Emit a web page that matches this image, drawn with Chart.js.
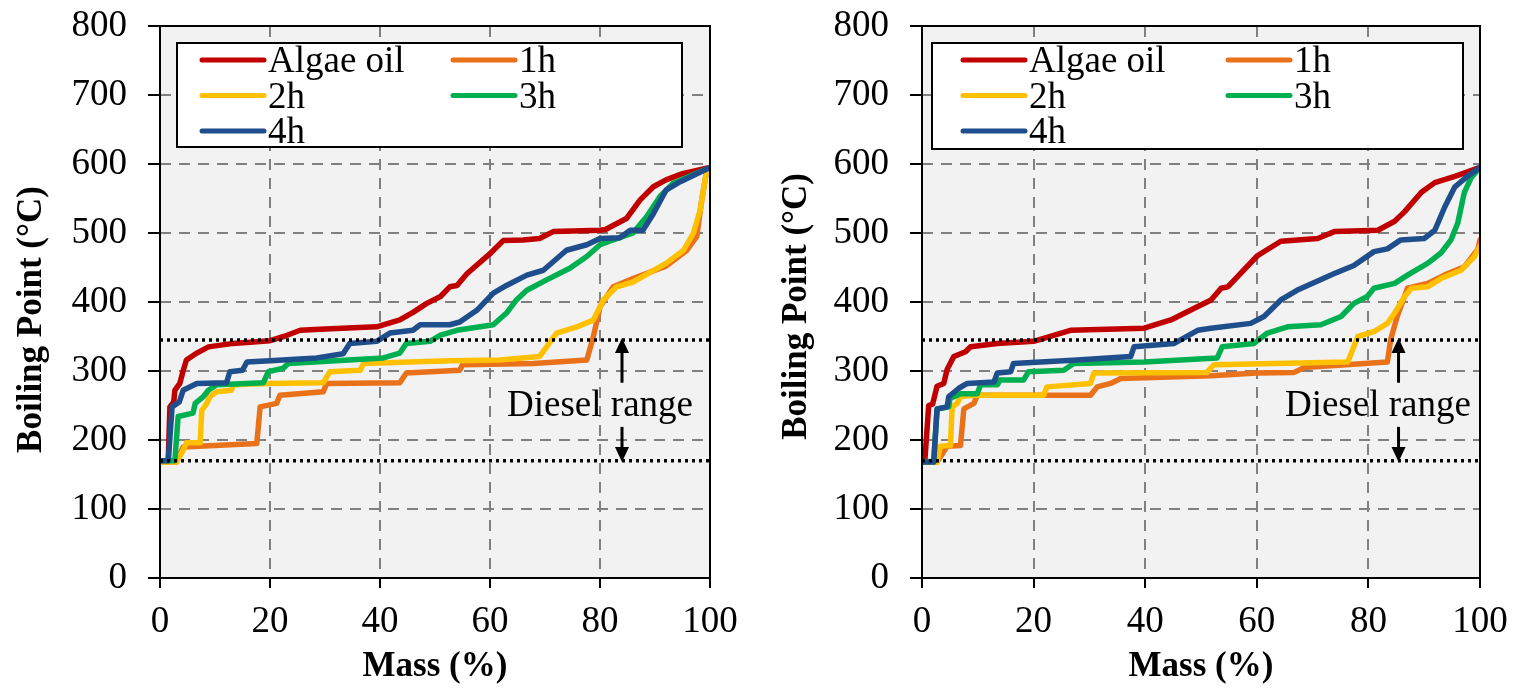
<!DOCTYPE html>
<html lang="en">
<head>
<meta charset="UTF-8" />
<title>Boiling point distribution</title>
<style>
  body { margin: 0; background: #fff; }
  .wrap { position: relative; width: 1513px; height: 688px; }
  canvas { position: absolute; top: 0; }
  #leftChart { left: 0; }
  #rightChart { left: 756px; }
</style>
<script src="https://cdn.jsdelivr.net/npm/chart.js"></script>
</head>
<body>
<div class="wrap">
  <canvas id="leftChart" width="756" height="688"></canvas>
  <canvas id="rightChart" width="757" height="688"></canvas>
</div>
<script>
  const seriesNames = ["Algae oil", "1h", "2h", "3h", "4h"];
  const seriesColors = ["#C00000", "#E8711A", "#FFC000", "#00B050", "#1F4E8C"];

  const massTicks = [0, 20, 40, 60, 80, 100];
  const bpTicks = [0, 100, 200, 300, 400, 500, 600, 700, 800];
  const dieselRange = [170, 345];   // dotted lines, °C

  // left panel, [mass %, boiling point °C]
  const leftAlgae = [[0,170],[1.5,170],[1.8,248],[2.5,255],[2.7,272],[3.6,282],[4.2,300],[4.8,316],[6.7,326],[8.8,335],[13.3,340],[20,344],[22.5,350],[25.5,359],[30,361],[39.4,364],[43.6,374],[46,385],[48.5,398],[51,408],[52.7,422],[54,424],[55.8,441],[60,470],[62.4,489],[66,490],[69,492],[71.5,502],[80,504],[81,505],[84.8,521],[87.3,548],[89.7,567],[92,577],[95,586],[100,595]];
  const left1h = [[0,168],[3,168],[4.2,190],[17.6,195],[18.2,248],[21.2,253],[21.8,265],[29.7,270],[30.3,282],[43.6,283],[44.8,297],[54.5,301],[55,309],[67.9,311],[77.6,316],[78.8,350],[80,393],[82.4,422],[86,434],[92,452],[95.8,475],[97.6,495],[98.5,548],[99.4,591],[100,595]];
  const left2h = [[0,168],[3,168],[4.2,185],[4.8,196],[7.3,196],[7.6,243],[8.5,253],[9.1,263],[10.3,270],[13,272],[13.3,280],[19.4,282],[29.7,283],[30.9,299],[36.4,301],[37,311],[52.7,315],[61.8,316],[69,321],[70.3,335],[72.1,355],[75.8,364],[78.8,374],[80.6,403],[83,422],[86,429],[92,456],[95.2,475],[97,500],[98.2,533],[99.4,591],[100,595]];
  const left3h = [[0,170],[2.7,170],[3.3,234],[6,239],[6.4,253],[7.9,263],[8.8,272],[10.3,280],[18.8,283],[19.7,299],[22.4,304],[23.3,311],[32,315],[40.6,319],[43.6,326],[44.8,340],[49.1,343],[51,352],[54,359],[60.6,367],[63,384],[64.8,403],[66.7,417],[70.3,432],[74.5,449],[77.6,466],[80,483],[82.4,490],[86,500],[88.5,524],[90.9,553],[93.3,572],[100,595]];
  const left4h = [[0,170],[1.5,170],[2.2,248],[3.5,255],[4.2,272],[6.7,282],[12.1,283],[12.7,299],[15,301],[15.8,313],[20,315],[28.5,319],[33.3,325],[34.5,340],[39.4,343],[41.8,355],[46,359],[47.3,367],[52.7,367],[54.5,371],[57.6,388],[60.6,413],[63,424],[66.7,439],[69.7,446],[73.9,475],[77.6,483],[80,492],[83.6,493],[85.5,504],[87.8,504],[89.7,528],[92,562],[94.5,574],[100,595]];

  // right panel
  const rightAlgae = [[0,169],[0.5,169],[1.2,250],[1.9,252],[2.7,278],[3.9,282],[4.5,302],[5.7,321],[7.8,328],[8.7,335],[13.5,340],[20,343],[26.6,359],[39.8,362],[44.6,374],[48.8,391],[51.8,403],[53.6,420],[54.8,422],[60.1,467],[64.3,488],[70.9,492],[73.9,502],[81.7,504],[84.7,517],[86.5,531],[89.5,559],[91.9,573],[95.5,582],[100,595]];
  const right1h = [[0,168],[2.7,168],[4.5,191],[6.9,192],[7.5,245],[9.3,253],[9.9,265],[30.2,265],[31.4,277],[33.8,282],[35.6,289],[51.8,293],[60,297],[66.7,298],[68.5,305],[83.4,313],[84,346],[85.2,380],[87,420],[90.6,427],[93.6,439],[97.2,451],[99.6,476],[100,490]];
  const right2h = [[0,168],[2.7,168],[3.3,191],[5.1,192],[5.4,248],[6.3,253],[6.9,263],[9.6,265],[21.8,265],[22.4,277],[30.2,282],[30.8,297],[51.1,298],[52.3,309],[76.3,313],[78.1,350],[81,357],[83.4,369],[84.7,384],[86.5,408],[87.7,420],[90.6,422],[93,434],[96.6,446],[99,466],[100,481]];
  const right3h = [[0,169],[2.1,169],[2.7,245],[4.8,248],[5,260],[6.9,267],[9.9,267],[10.5,280],[13.5,280],[14,287],[18.2,287],[19.1,299],[25.4,301],[27.2,311],[39.8,313],[52.9,319],[53.8,335],[59.5,340],[61.9,355],[65.5,364],[71.5,367],[75.1,379],[77.4,398],[79.8,408],[81,420],[84.7,427],[87,439],[90.6,456],[93,471],[94.8,490],[96,514],[97.2,559],[98.4,580],[100,595]];
  const right4h = [[0,168],[2.1,168],[2.7,245],[4.5,248],[4.8,263],[6.6,275],[8.1,282],[12.9,284],[13.5,297],[15.9,299],[16.4,311],[27.8,316],[37.4,321],[38,335],[45.2,340],[49.4,359],[51.8,362],[58.9,369],[61.3,379],[64.3,403],[67.2,417],[73.8,441],[77.4,453],[81,473],[83.4,477],[85.8,490],[90,492],[91.9,504],[93.7,538],[95.5,567],[97.9,583],[100,595]];

  const SERIF = '"Liberation Serif", "Times New Roman", serif';
  Chart.defaults.font.family = SERIF;
  Chart.defaults.color = "#000";

  // grey plot background + black frame
  const plotFrame = {
    id: "plotFrame",
    beforeDraw(chart) {
      const { ctx, chartArea: a } = chart;
      ctx.save();
      ctx.fillStyle = "#f2f2f2";
      ctx.fillRect(a.left, a.top, a.width, a.height);
      ctx.restore();
    },
    afterDatasetsDraw(chart) {
      const { ctx, chartArea: a } = chart;
      ctx.save();
      ctx.strokeStyle = "#000";
      ctx.lineWidth = 2;
      ctx.strokeRect(a.left, a.top, a.width, a.height);
      ctx.restore();
    }
  };

  // legend in a white box inside the plot, two columns
  const boxLegend = {
    id: "boxLegend",
    afterDraw(chart, args, o) {
      const { ctx, chartArea: a } = chart;
      const x0 = a.left + o.left, y0 = a.top + o.top;
      ctx.save();
      ctx.fillStyle = "#fff";
      ctx.fillRect(x0, y0, o.width, o.height);
      ctx.strokeStyle = "#000";
      ctx.lineWidth = 2;
      ctx.strokeRect(x0, y0, o.width, o.height);
      ctx.font = "37px " + SERIF;
      ctx.textBaseline = "alphabetic";
      seriesNames.forEach((name, i) => {
        const col = i % 2, row = Math.floor(i / 2);
        const lx = x0 + (col ? o.col2 : o.col1);
        const ly = y0 + o.row0 + row * o.rowGap;
        ctx.strokeStyle = seriesColors[i];
        ctx.lineWidth = 5;
        ctx.lineCap = "round";
        ctx.beginPath();
        ctx.moveTo(lx, ly);
        ctx.lineTo(lx + 62, ly);
        ctx.stroke();
        ctx.fillStyle = "#000";
        ctx.fillText(name, lx + 66, ly + 12);
      });
      ctx.restore();
    }
  };

  // "Diesel range" label with arrows
  const dieselNote = {
    id: "dieselNote",
    afterDatasetsDraw(chart, args, o) {
      const { ctx, scales: { x, y } } = chart;
      const ax = x.getPixelForValue(o.arrowAt);
      ctx.save();
      ctx.strokeStyle = "#000";
      ctx.fillStyle = "#000";
      ctx.lineWidth = 3;
      const arrow = (from, to) => {
        const y1 = y.getPixelForValue(from), y2 = y.getPixelForValue(to);
        const dir = y2 < y1 ? 1 : -1;
        ctx.beginPath();
        ctx.moveTo(ax, y1);
        ctx.lineTo(ax, y2 + dir * 12);
        ctx.stroke();
        ctx.beginPath();
        ctx.moveTo(ax, y2);
        ctx.lineTo(ax - 7, y2 + dir * 15);
        ctx.lineTo(ax + 7, y2 + dir * 15);
        ctx.closePath();
        ctx.fill();
      };
      arrow(283, 348);
      arrow(219, 168);
      ctx.font = "37px " + SERIF;
      ctx.textAlign = "center";
      ctx.textBaseline = "middle";
      ctx.fillText("Diesel range", x.getPixelForValue(o.textAt), y.getPixelForValue(249));
      ctx.restore();
    }
  };

  function makeChart(id, series, p) {
    const datasets = series.map((pts, i) => ({
      label: seriesNames[i],
      data: pts.map(([m, t]) => ({ x: m, y: t })),
      borderColor: seriesColors[i],
      borderWidth: 5.5,
      pointRadius: 0,
      tension: 0,
      borderJoinStyle: "round",
      borderCapStyle: "round",
      order: 10 - i
    }));
    dieselRange.forEach(v => datasets.push({
      label: "",
      data: [{ x: massTicks[0], y: v }, { x: massTicks[massTicks.length - 1], y: v }],
      borderColor: "#000",
      borderWidth: 3.5,
      borderDash: [3, 4],
      pointRadius: 0,
      order: 0
    }));

    return new Chart(document.getElementById(id), {
      type: "line",
      data: { datasets },
      options: {
        responsive: false,
        animation: false,
        layout: { padding: { left: 0, top: 26, right: p.padRight, bottom: 0 } },
        plugins: {
          legend: { display: false },
          tooltip: { enabled: false },
          boxLegend: p.legend,
          dieselNote: p.note
        },
        scales: {
          x: {
            type: "linear",
            min: 0,
            max: 100,
            afterBuildTicks: s => { s.ticks = massTicks.map(v => ({ value: v })); },
            afterFit: s => { s.height = 110; s.paddingLeft = 0; s.paddingRight = 0; },
            ticks: { font: { size: 37 }, color: "#000", padding: 12 },
            grid: { color: "#808080", lineWidth: 2, tickColor: "#000", tickWidth: 2, tickLength: 10 },
            border: { display: false, dash: [11, 8] },
            title: { display: true, text: "Mass (%)", font: { size: 35, weight: "bold" }, color: "#000", padding: { top: 0, bottom: 0 } }
          },
          y: {
            type: "linear",
            min: 0,
            max: 800,
            afterBuildTicks: s => { s.ticks = bpTicks.map(v => ({ value: v })); },
            afterFit: s => { s.width = p.yWidth; s.paddingTop = 0; s.paddingBottom = 0; },
            ticks: { font: { size: 37 }, color: "#000", padding: 21 },
            grid: { color: "#808080", lineWidth: 2, tickColor: "#000", tickWidth: 2, tickLength: 12 },
            border: { display: false, dash: [11, 8] },
            title: { display: true, text: "Boiling Point (°C)" + p.titleTail, font: { size: 35, weight: "bold" }, color: "#000", padding: { top: p.titlePad, bottom: 0 } }
          }
        }
      },
      plugins: [plotFrame, boxLegend, dieselNote]
    });
  }

  makeChart("leftChart", [leftAlgae, left1h, left2h, left3h, left4h], {
    padRight: 46, yWidth: 160, titlePad: 11, titleTail: "    ",
    legend: { left: 17, top: 17, width: 505, height: 104, col1: 25, col2: 276, row0: 17, rowGap: 35.5 },
    note: { arrowAt: 84, textAt: 80 }
  });
  makeChart("rightChart", [rightAlgae, right1h, right2h, right3h, right4h], {
    padRight: 33, yWidth: 166, titlePad: 20, titleTail: " ",
    legend: { left: 10, top: 17, width: 531, height: 106, col1: 31, col2: 296, row0: 17, rowGap: 35.5 },
    note: { arrowAt: 85.4, textAt: 81.7 }
  });
</script>
</body>
</html>
